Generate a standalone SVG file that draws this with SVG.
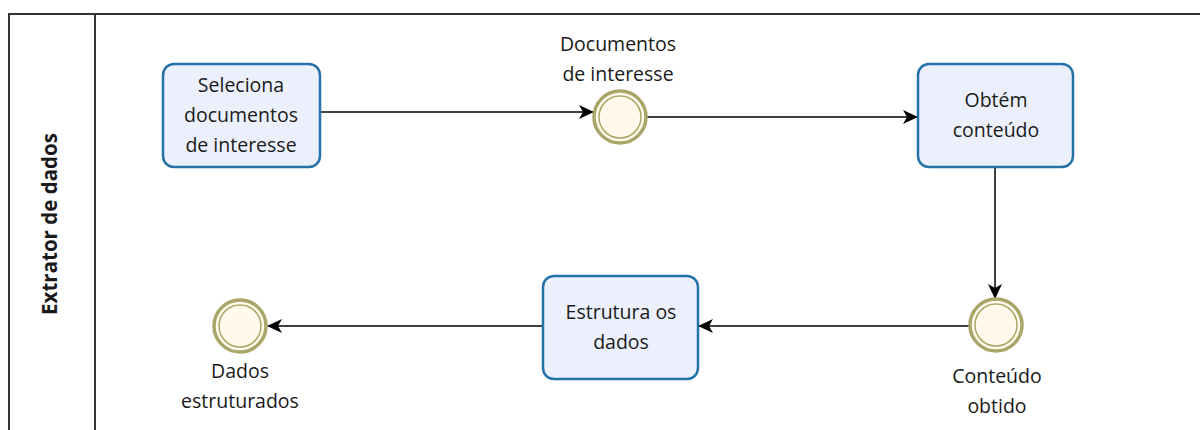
<svg xmlns="http://www.w3.org/2000/svg" width="1200" height="430" viewBox="0 0 1200 430">
  <defs>
    <marker id="arrow" viewBox="0 0 15 14" refX="14" refY="7" markerWidth="15" markerHeight="14" markerUnits="userSpaceOnUse" orient="auto">
      <path d="M0,0 L15,7 L0,14 L4,7 Z" fill="#000"/>
    </marker>
    <style>
      .pool { fill: none; stroke: #333; stroke-width: 2; }
      .task rect { fill: #ecf0fc; stroke: #2372a8; stroke-width: 2.5; }
      .event .outer { fill: #fffaeb; stroke: #aaa66a; stroke-width: 3.5; }
      .event .inner { fill: none; stroke: #aaa66a; stroke-width: 1.5; }
      .flow { fill: none; stroke: #000; stroke-width: 1.5; marker-end: url(#arrow); }
      text { font-family: "Open Sans", "Liberation Sans", sans-serif; font-size: 19.5px; fill: #1a1a1a; text-anchor: middle; }
      .lane { font-weight: bold; font-size: 20.5px; }
    </style>
  </defs>

  <!-- pool frame -->
  <g id="pool">
    <path class="pool" d="M1200,14 L9,14 L9,430 M95,14 L95,430"/>
    <text class="lane" transform="translate(57,224) rotate(-90)">Extrator de dados</text>
  </g>

  <!-- sequence flows -->
  <g id="connectors">
    <line class="flow" x1="320" y1="112" x2="593" y2="112"/>
    <line class="flow" x1="647" y1="117" x2="917" y2="117"/>
    <line class="flow" x1="995" y1="167" x2="995" y2="298"/>
    <line class="flow" x1="969" y1="326" x2="699" y2="326"/>
    <line class="flow" x1="543" y1="326" x2="268" y2="326"/>
  </g>

  <g id="task-seleciona" class="task">
    <rect x="163" y="64" width="157" height="103" rx="11"/>
    <text x="241" y="92">Seleciona</text>
    <text x="241" y="122">documentos</text>
    <text x="241" y="152">de interesse</text>
  </g>

  <g id="event-documentos" class="event">
    <circle class="outer" cx="620" cy="117" r="26"/>
    <circle class="inner" cx="620" cy="117" r="21"/>
    <text x="618" y="51">Documentos</text>
    <text x="618" y="81">de interesse</text>
  </g>

  <g id="task-obtem" class="task">
    <rect x="918" y="64" width="155" height="103" rx="11"/>
    <text x="996" y="107">Obtém</text>
    <text x="996" y="137">conteúdo</text>
  </g>

  <g id="event-conteudo" class="event">
    <circle class="outer" cx="996" cy="325" r="26"/>
    <circle class="inner" cx="996" cy="325" r="21"/>
    <text x="997" y="383">Conteúdo</text>
    <text x="997" y="413">obtido</text>
  </g>

  <g id="task-estrutura" class="task">
    <rect x="543" y="276" width="155" height="103" rx="11"/>
    <text x="621" y="319">Estrutura os</text>
    <text x="621" y="349">dados</text>
  </g>

  <g id="event-dados" class="event">
    <circle class="outer" cx="240" cy="326" r="26"/>
    <circle class="inner" cx="240" cy="326" r="21"/>
    <text x="240" y="378">Dados</text>
    <text x="240" y="408">estruturados</text>
  </g>
</svg>
